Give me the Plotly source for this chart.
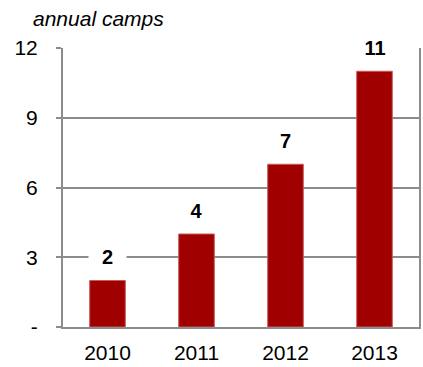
import plotly.graph_objects as go

years = [2010, 2011, 2012, 2013]
camps = [2, 4, 7, 11]
y_ticks = [0, 3, 6, 9, 12]
y_tick_text = ["-", "3", "6", "9", "12"]

BAR = "#a00000"
GRID = "#8c8c8c"
FONT = "Liberation Sans, Arial, sans-serif"

fig = go.Figure()
fig.add_trace(
    go.Bar(
        x=years,
        y=camps,
        marker=dict(color=BAR, line=dict(color="#c85a5a", width=1)),
        hoverinfo="skip",
    )
)

# value labels on white boxes that break the gridlines
for yr, v in zip(years, camps):
    fig.add_annotation(
        x=yr, y=v, xref="x", yref="y",
        text=f"<b>{v}</b>",
        showarrow=False,
        yshift=23.5, yanchor="middle",
        bgcolor="white",
        width=11 * len(str(v)) + 24,
        font=dict(family=FONT, size=20, color="black"),
    )

fig.add_annotation(
    text="<i>annual camps</i>",
    xref="paper", yref="paper",
    x=(31 - 63) / 358.5, y=1 + (48 - 18) / 279,
    xanchor="left", yanchor="middle",
    showarrow=False,
    font=dict(family=FONT, size=21, color="black"),
)

fig.update_layout(
    width=423, height=367,
    margin=dict(l=63, r=2, t=48, b=40),
    paper_bgcolor="white", plot_bgcolor="white",
    showlegend=False,
    bargap=0.6,
    font=dict(family=FONT, size=21, color="black"),
    xaxis=dict(
        type="linear",
        range=[years[0] - 0.5, years[-1] + 0.5],
        tickvals=years, ticktext=[str(y) for y in years],
        showgrid=False, showline=True, linecolor=GRID, linewidth=2,
        ticks="", zeroline=False, ticklabelstandoff=6,
        tickfont=dict(size=21),
    ),
    yaxis=dict(
        range=[0, 12], tickvals=y_ticks, ticktext=y_tick_text,
        showgrid=True, gridcolor=GRID, gridwidth=2,
        showline=True, linecolor=GRID, linewidth=2, mirror=True,
        ticks="outside", ticklen=5, tickwidth=2, tickcolor=GRID,
        zeroline=False, ticklabelstandoff=14,
        tickfont=dict(size=21),
    ),
)

fig.write_html("out.html")
